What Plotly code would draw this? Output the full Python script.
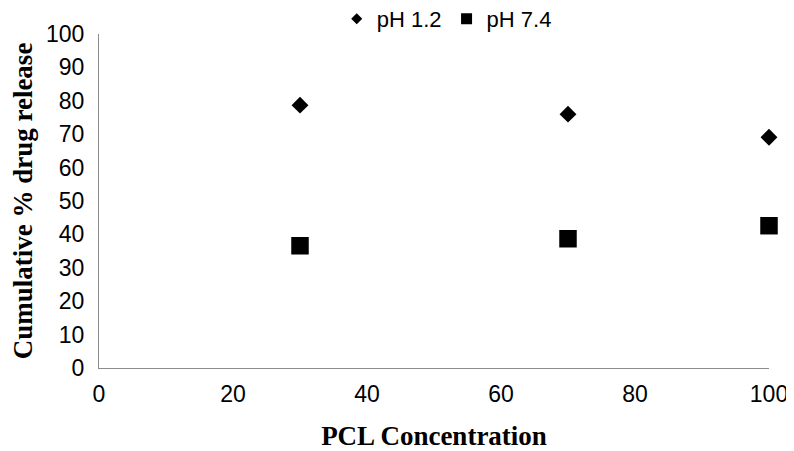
import plotly.graph_objects as go

pcl = [30, 70, 100]
ph12 = [78.7, 76.0, 69.1]
ph74 = [36.6, 38.7, 42.6]
x_ticks = [0, 20, 40, 60, 80, 100]
y_ticks = list(range(0, 101, 10))

fig = go.Figure()
fig.add_trace(go.Scatter(x=pcl, y=ph12, mode="markers", name="pH 1.2", showlegend=False,
                         cliponaxis=False,
                         marker=dict(symbol="diamond", size=13, color="black")))
fig.add_trace(go.Scatter(x=pcl, y=ph74, mode="markers", name="pH 7.4", showlegend=False,
                         cliponaxis=False,
                         marker=dict(symbol="square", size=17.5, color="black")))
# legend entries (smaller symbols as in the reference legend)
fig.add_trace(go.Scatter(x=[None], y=[None], mode="markers", name="pH 1.2",
                         marker=dict(symbol="diamond", size=8.5, color="black")))
fig.add_trace(go.Scatter(x=[None], y=[None], mode="markers", name="pH 7.4",
                         marker=dict(symbol="square", size=11, color="black")))

tickfont = dict(family="Liberation Sans, Arial", size=23, color="black")
titlefont = dict(family="Liberation Serif, Times New Roman", size=27, color="black")

# page body has an 8px default margin, so the figure is 8px smaller
fig.update_layout(
    width=786, height=443,
    margin=dict(l=91, r=25, t=26, b=83, autoexpand=False),
    paper_bgcolor="white", plot_bgcolor="white",
    showlegend=True,
    legend=dict(orientation="h", x=0.519, xanchor="center", y=0.982, yanchor="bottom",
                font=dict(family="Liberation Sans, Arial", size=22, color="black"),
                itemwidth=30, tracegroupgap=0, bgcolor="rgba(0,0,0,0)"),
    xaxis=dict(range=[0, 100], tickvals=x_ticks, showgrid=False, zeroline=False,
               showline=True, linecolor="#8c8c8c", linewidth=1, ticks="",
               tickfont=tickfont, ticklabelstandoff=5,
               title=dict(text="<b>PCL Concentration</b>", font=titlefont, standoff=20)),
    yaxis=dict(range=[0, 100], tickvals=y_ticks, showgrid=False, zeroline=False,
               showline=True, linecolor="#8c8c8c", linewidth=1, ticks="",
               tickfont=tickfont, ticklabelstandoff=9,
               title=dict(text="<b>Cumulative % drug release</b>", font=titlefont, standoff=7)),
)
fig.update_xaxes(automargin=False)
fig.update_yaxes(automargin=False)

fig.write_html("out.html")
